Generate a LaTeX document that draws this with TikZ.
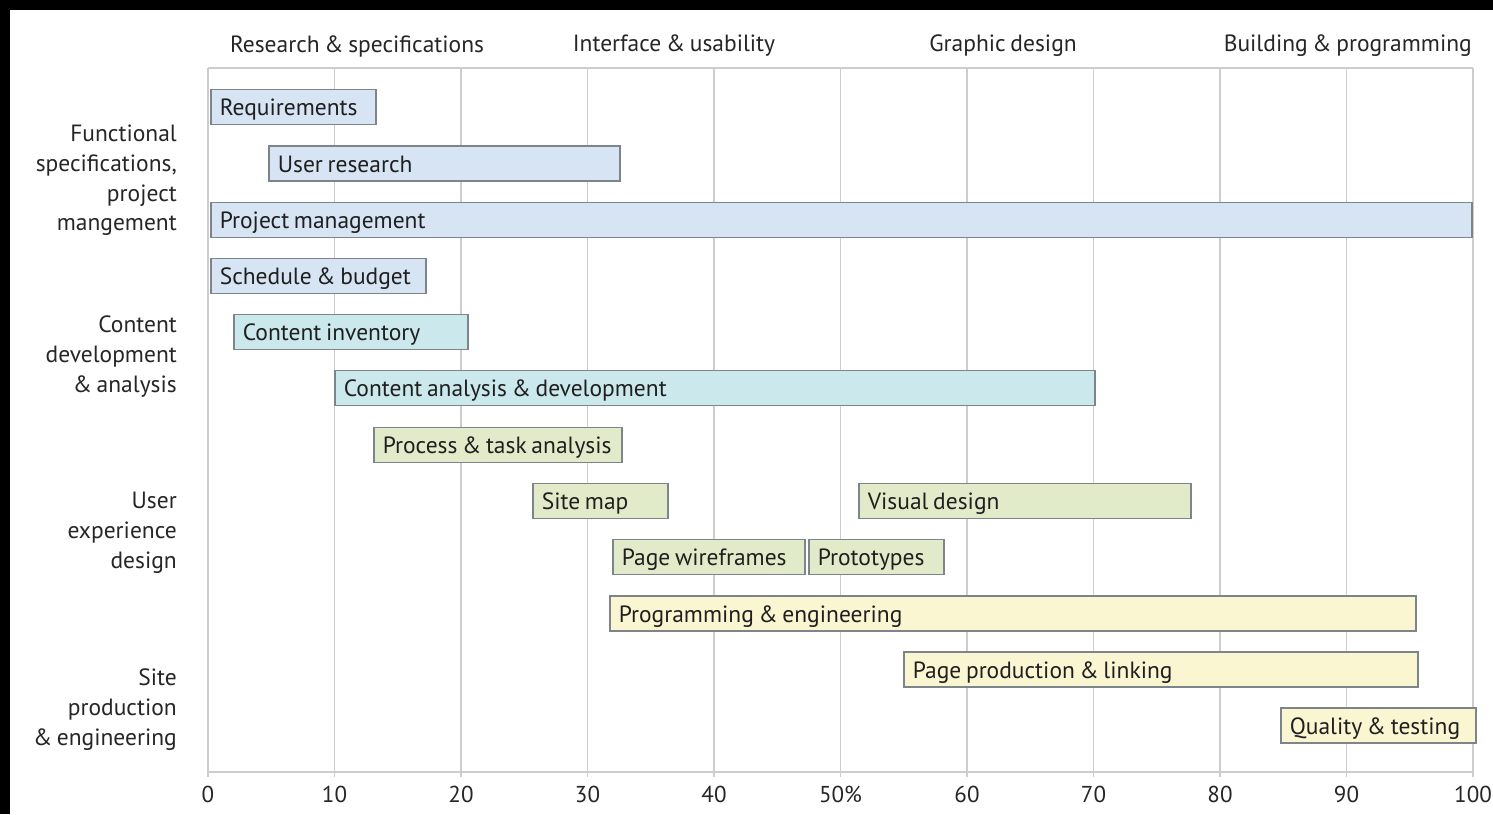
\documentclass[tikz,border=0pt]{standalone}
\usepackage{fontspec}
\setmainfont[WordSpace=0.75]{PT Sans}
\definecolor{gridc}{RGB}{205,205,205}
\definecolor{edgec}{RGB}{125,132,138}
\definecolor{fblue}{RGB}{214,228,243}
\definecolor{fteal}{RGB}{203,232,236}
\definecolor{fgreen}{RGB}{226,235,201}
\definecolor{fyellow}{RGB}{251,246,210}
\tikzset{
  barbox/.style={draw=edgec, line width=1.6pt, rectangle, anchor=west, minimum height=35pt,
     inner xsep=9pt, inner ysep=0pt, text height=18pt, text depth=1pt, text=black!88,
     font=\fontsize{23.5}{26}\selectfont},
  bblue/.style={barbox, fill=fblue},
  bteal/.style={barbox, fill=fteal},
  bgreen/.style={barbox, fill=fgreen},
  byellow/.style={barbox, fill=fyellow},
  gline/.style={draw=gridc, line width=1.8pt},
  headlbl/.style={font=\fontsize{23.5}{26}\selectfont, text=black!85, inner sep=0pt},
  rowlbl/.style={font=\fontsize{23.5}{29.7}\selectfont, text=black!85, align=right, anchor=north east, inner sep=0pt},
  ticklbl/.style={font=\fontsize{23}{26}\selectfont, text=black!85, inner sep=0pt}
}
\newcommand\gbar[6]{%
  \pgfmathsetmacro\bw{#4-#3}%
  \pgfmathsetmacro\tw{#4-#3-18}%
  \node[#2, minimum width=\bw pt] (#1) at (#3,#5) {\makebox[\tw pt][l]{#6}};}
\begin{document}
\begin{tikzpicture}[x=1pt,y=-1pt]
\useasboundingbox (0,0) rectangle (1493,814);
\fill[white] (0,0) rectangle (1493,814);
\fill[black] (0,0) rectangle (1493,10);
\fill[black] (0,0) rectangle (10,814);
% grid
\foreach \i in {0,...,10} {
  \draw[gline] ({208+126.5*\i},68) -- ({208+126.5*\i},777);
}
\draw[gline] (208,68) -- (1473,68);
\draw[gline] (207,772) -- (1474,772);
% tick labels
\foreach \i/\t in {0/0,1/10,2/20,3/30,4/40,5/50\%,6/60,7/70,8/80,9/90,10/100} {
  \node[ticklbl] (t\i) at ({208+126.5*\i},794) {\t};
}
% headers
\node[headlbl] (h1) at (357,46) {Research \& specifications};
\node[headlbl] (h2) at (674,46) {Interface \& usability};
\node[headlbl] (h3) at (1003,46) {Graphic design};
\node[headlbl, anchor=east] (h4) at (1472,46) {Building \& programming};
% row labels
\node[rowlbl] (r1) at (177,125) {Functional\\specifications,\\project\\mangement};
\node[rowlbl] (r2) at (177,316) {Content\\development\\\& analysis};
\node[rowlbl] (r3) at (177,492) {User\\experience\\design};
\node[rowlbl] (r4) at (177,669) {Site\\production\\\& engineering};
% bars
\gbar{b1}{bblue}{210}{375}{107}{Requirements}
\gbar{b2}{bblue}{268}{619}{163.5}{User research}
\gbar{b3}{bblue}{210}{1471}{220}{Project management}
\gbar{b4}{bblue}{210}{425}{276}{Schedule \& budget}
\gbar{b5}{bteal}{233}{467}{332}{Content inventory}
\gbar{b6}{bteal}{334}{1094}{388}{Content analysis \& development}
\gbar{b7}{bgreen}{373}{621}{445}{Process \& task analysis}
\gbar{b8}{bgreen}{532}{667}{501}{Site map}
\gbar{b9}{bgreen}{858}{1190}{501}{Visual design}
\gbar{b10}{bgreen}{612}{804}{557}{Page wireframes}
\gbar{b11}{bgreen}{808}{943}{557}{Prototypes}
\gbar{b12}{byellow}{609}{1415}{613.5}{Programming \& engineering}
\gbar{b13}{byellow}{903}{1417}{669.5}{Page production \& linking}
\gbar{b14}{byellow}{1280}{1475}{725.5}{Quality \& testing}
\end{tikzpicture}
\end{document}
